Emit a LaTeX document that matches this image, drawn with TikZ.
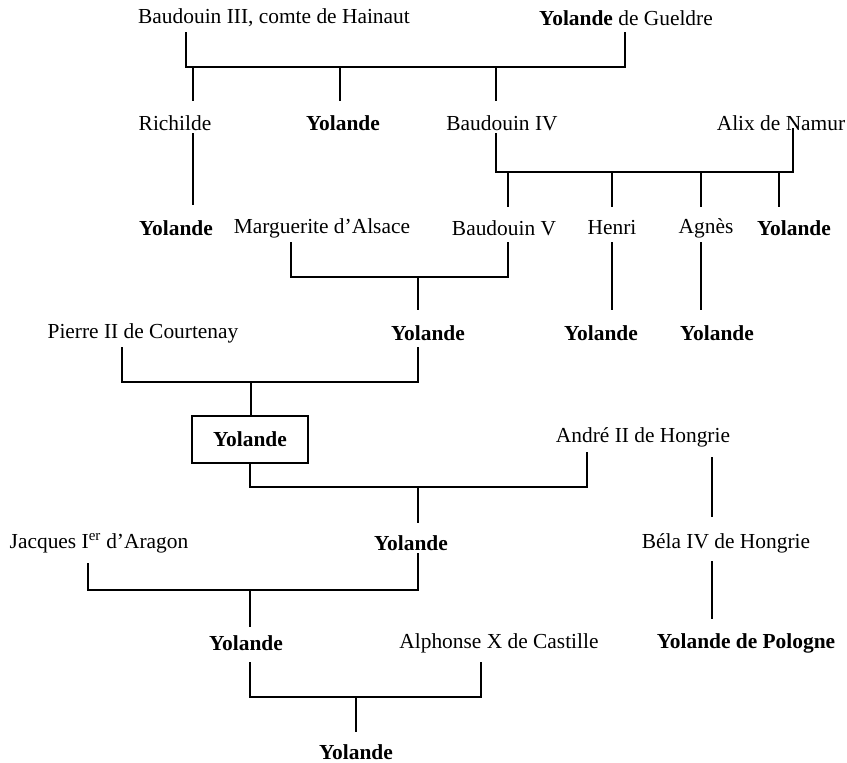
\documentclass[tikz,border=0pt]{standalone}
\usepackage{fontspec}
\setmainfont{Liberation Serif}
\begin{document}
\begin{tikzpicture}[x=1pt,y=-1pt,
  lbl/.style={inner sep=0pt,font=\fontsize{21.4}{25}\selectfont},
  bx/.style={lbl,draw,line width=1.4pt,minimum width=116pt,minimum height=47pt},
  ln/.style={line width=1.4pt}]
\useasboundingbox (0,0) rectangle (847,763);
% people
\node[lbl] (b3) at (274,18) {Baudouin III, comte de Hainaut};
\node[lbl] (yg) at (626,18) {\textbf{Yolande} de Gueldre};
\node[lbl] (ri) at (175,123) {Richilde};
\node[lbl] (y1) at (343,123) {\textbf{Yolande}};
\node[lbl] (b4) at (502,123) {Baudouin IV};
\node[lbl] (al) at (781,123) {Alix de Namur};
\node[lbl] (y2) at (176,228) {\textbf{Yolande}};
\node[lbl] (ma) at (322,228) {Marguerite d’Alsace};
\node[lbl] (b5) at (504,228) {Baudouin V};
\node[lbl] (he) at (612,228) {Henri};
\node[lbl] (ag) at (706,228) {Agnès};
\node[lbl] (y3) at (794,228) {\textbf{Yolande}};
\node[lbl] (pi) at (143,333) {Pierre II de Courtenay};
\node[lbl] (y4) at (428,333) {\textbf{Yolande}};
\node[lbl] (y5) at (601,333) {\textbf{Yolande}};
\node[lbl] (y6) at (717,333) {\textbf{Yolande}};
\node[bx] (yb) at (250,439.5) {\textbf{Yolande}};
\node[lbl] (an) at (643,437) {André II de Hongrie};
\node[lbl] (ja) at (99,543) {Jacques I\textsuperscript{er} d’Aragon};
\node[lbl] (y7) at (411,543) {\textbf{Yolande}};
\node[lbl] (be) at (726,543) {Béla IV de Hongrie};
\node[lbl] (y8) at (246,643) {\textbf{Yolande}};
\node[lbl] (alp) at (499,643) {Alphonse X de Castille};
\node[lbl] (yp) at (746,643) {\textbf{Yolande de Pologne}};
\node[lbl] (y9) at (356,752) {\textbf{Yolande}};
% connector end points
\coordinate (b3d) at (186,32);  \coordinate (ygd) at (625,32);
\coordinate (m1) at (186,67);
\coordinate (ri1) at (193,67);  \coordinate (riu) at (193,101);
\coordinate (y11) at (340,67);  \coordinate (y1u) at (340,101);
\coordinate (b41) at (496,67);  \coordinate (b4u) at (496,101);
\coordinate (rid) at (193,133); \coordinate (y2u) at (193,205);
\coordinate (b4d) at (496,133); \coordinate (ald) at (793,128);
\coordinate (m2) at (496,172);
\coordinate (b51) at (508,172); \coordinate (b5u) at (508,207);
\coordinate (he1) at (612,172); \coordinate (heu) at (612,207);
\coordinate (ag1) at (701,172); \coordinate (agu) at (701,207);
\coordinate (y31) at (779,172); \coordinate (y3u) at (779,207);
\coordinate (mad) at (291,242); \coordinate (b5d) at (508,242);
\coordinate (m3) at (291,277);
\coordinate (y41) at (418,277); \coordinate (y4u) at (418,310);
\coordinate (hed) at (612,242); \coordinate (y5u) at (612,310);
\coordinate (agd) at (701,242); \coordinate (y6u) at (701,310);
\coordinate (pid) at (122,347); \coordinate (y4d) at (418,347);
\coordinate (m4) at (122,382);
\coordinate (yb1) at (251,382);
\coordinate (ybd) at (250,463); \coordinate (and) at (587,452);
\coordinate (m5) at (250,487);
\coordinate (y71) at (418,487); \coordinate (y7u) at (418,523);
\coordinate (and2) at (712,457); \coordinate (beu) at (712,517);
\coordinate (jad) at (88,563); \coordinate (y7d) at (418,553);
\coordinate (m6) at (88,590);
\coordinate (y81) at (250,590); \coordinate (y8u) at (250,627);
\coordinate (bed) at (712,561); \coordinate (ypu) at (712,619);
\coordinate (y8d) at (250,662); \coordinate (alpd) at (481,662);
\coordinate (m7) at (250,697);
\coordinate (y91) at (356,697); \coordinate (y9u) at (356,732);
% connectors
\draw[ln] (b3d) |- (ygd |- m1) -- (ygd);
\draw[ln] (ri1) -- (riu);
\draw[ln] (y11) -- (y1u);
\draw[ln] (b41) -- (b4u);
\draw[ln] (rid) -- (y2u);
\draw[ln] (b4d) |- (ald |- m2) -- (ald);
\draw[ln] (b51) -- (b5u);
\draw[ln] (he1) -- (heu);
\draw[ln] (ag1) -- (agu);
\draw[ln] (y31) -- (y3u);
\draw[ln] (mad) |- (b5d |- m3) -- (b5d);
\draw[ln] (y41) -- (y4u);
\draw[ln] (hed) -- (y5u);
\draw[ln] (agd) -- (y6u);
\draw[ln] (pid) |- (y4d |- m4) -- (y4d);
\draw[ln] (yb1) -- (yb.north -| yb1);
\draw[ln] (ybd) |- (and |- m5) -- (and);
\draw[ln] (y71) -- (y7u);
\draw[ln] (and2) -- (beu);
\draw[ln] (jad) |- (y7d |- m6) -- (y7d);
\draw[ln] (y81) -- (y8u);
\draw[ln] (bed) -- (ypu);
\draw[ln] (y8d) |- (alpd |- m7) -- (alpd);
\draw[ln] (y91) -- (y9u);
\end{tikzpicture}
\end{document}
